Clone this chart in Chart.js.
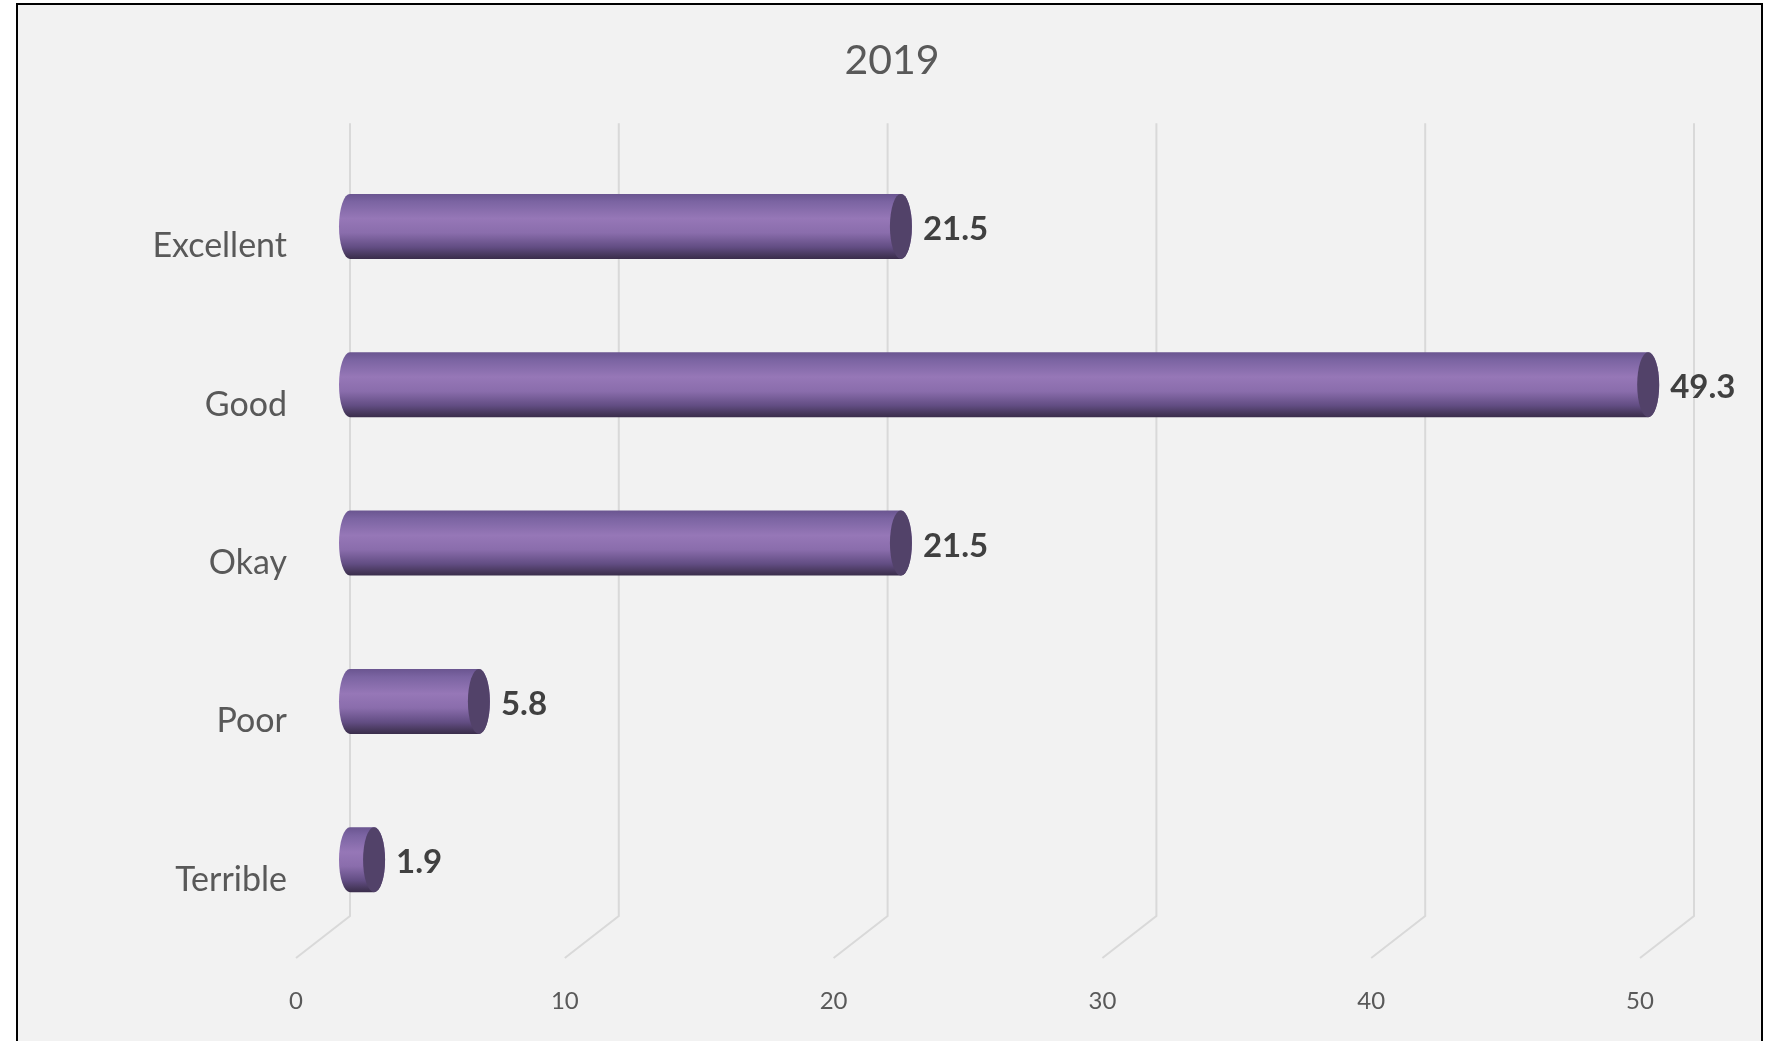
<!DOCTYPE html>
<html lang="en">
<head>
  <meta charset="UTF-8" />
  <title>2019</title>
  <script src="https://cdn.jsdelivr.net/npm/chart.js"></script>
  <style>
    html, body { margin: 0; padding: 0; background: #fff; }
    body { width: 1778px; height: 1041px; overflow: hidden; position: relative; font-family: Lato, sans-serif; }
    .frame {
      position: absolute; left: 16px; top: 3px; width: 1747px; height: 1100px;
      box-sizing: border-box; border: 2px solid #000; background: #f2f2f2;
    }
    .chart-box { position: absolute; left: 0; top: 0; width: 1778px; height: 1041px; }
  </style>
</head>
<body>
  <div class="frame"></div>
  <div class="chart-box"><canvas id="ratingChart"></canvas></div>

  <script>
    const chartTitle = '2019';
    const categories = ['Excellent', 'Good', 'Okay', 'Poor', 'Terrible'];
    const scores = [21.5, 49.3, 21.5, 5.8, 1.9];
    const xTicks = [0, 10, 20, 30, 40, 50];

    // 3D look: the floor front edge carries the tick labels, bars sit half a step back,
    // the wall gridlines a full step back
    const DEPTH = 27;
    const CAP_RX = 11;

    const cylinderBars = {
      id: 'cylinderBars',
      beforeDatasetsDraw(chart) {
        const { ctx, chartArea } = chart;
        const x = chart.scales.x;
        ctx.save();
        ctx.strokeStyle = '#d9d9d9';
        ctx.lineWidth = 2;
        xTicks.forEach(v => {
          const px = x.getPixelForValue(v);
          ctx.beginPath();
          ctx.moveTo(px + 2 * DEPTH, chartArea.top - 24);
          ctx.lineTo(px + 2 * DEPTH, chartArea.bottom - 23);
          ctx.lineTo(px, chartArea.bottom + 19);
          ctx.stroke();
        });
        ctx.restore();
      },
      afterDatasetsDraw(chart) {
        const { ctx } = chart;
        const x = chart.scales.x;
        const start = x.getPixelForValue(0) + 2 * DEPTH;
        const meta = chart.getDatasetMeta(0);
        ctx.save();
        meta.data.forEach((bar, i) => {
          const end = bar.x + DEPTH;
          const ry = bar.height / 2;
          const top = bar.y - ry, bottom = bar.y + ry;

          const grad = ctx.createLinearGradient(0, top, 0, bottom);
          grad.addColorStop(0, '#6a5590');
          grad.addColorStop(0.12, '#7b64a2');
          grad.addColorStop(0.38, '#9677b7');
          grad.addColorStop(0.6, '#8a6dac');
          grad.addColorStop(0.82, '#624d83');
          grad.addColorStop(0.94, '#47385c');
          grad.addColorStop(1, '#3a2d4b');

          ctx.beginPath();
          ctx.moveTo(start, top);
          ctx.lineTo(end, top);
          ctx.ellipse(end, bar.y, CAP_RX, ry, 0, -Math.PI / 2, Math.PI / 2);
          ctx.lineTo(start, bottom);
          ctx.ellipse(start, bar.y, CAP_RX, ry, 0, Math.PI / 2, Math.PI * 1.5);
          ctx.closePath();
          ctx.fillStyle = grad;
          ctx.fill();

          // end face
          ctx.beginPath();
          ctx.ellipse(end, bar.y, CAP_RX, ry, 0, 0, Math.PI * 2);
          ctx.fillStyle = '#524269';
          ctx.fill();

          // value label
          ctx.fillStyle = '#404040';
          ctx.font = 'bold 33px Lato';
          ctx.textAlign = 'left';
          ctx.textBaseline = 'middle';
          ctx.fillText(String(scores[i]), end + CAP_RX + 11, bar.y + 3);
        });
        ctx.restore();
      }
    };

    new Chart(document.getElementById('ratingChart'), {
      type: 'bar',
      data: {
        labels: categories,
        datasets: [{
          data: scores,
          backgroundColor: 'rgba(0,0,0,0)',
          borderWidth: 0,
          barThickness: 65
        }]
      },
      options: {
        indexAxis: 'y',
        responsive: true,
        maintainAspectRatio: false,
        animation: false,
        layout: { padding: { left: 144, right: 138, top: 0, bottom: 0 } },
        plugins: {
          legend: { display: false },
          tooltip: { enabled: false },
          title: {
            display: true,
            text: chartTitle,
            color: '#595959',
            font: { family: 'Lato', size: 41, weight: 'normal' },
            padding: { top: 36, bottom: 62 }
          }
        },
        scales: {
          x: {
            min: 0,
            max: 50,
            afterBuildTicks(s) { s.ticks = xTicks.map(v => ({ value: v })); },
            afterFit(s) { s.height = 102; },
            grid: { display: false, drawTicks: false },
            border: { display: false },
            ticks: { color: '#595959', font: { family: 'Lato', size: 24 }, padding: 48 }
          },
          y: {
            afterFit(s) { s.width = 152; },
            grid: { display: false, drawTicks: false },
            border: { display: false },
            ticks: { color: '#595959', font: { family: 'Lato', size: 34 }, padding: 9, labelOffset: 20 }
          }
        }
      },
      plugins: [cylinderBars]
    });
  </script>
</body>
</html>
